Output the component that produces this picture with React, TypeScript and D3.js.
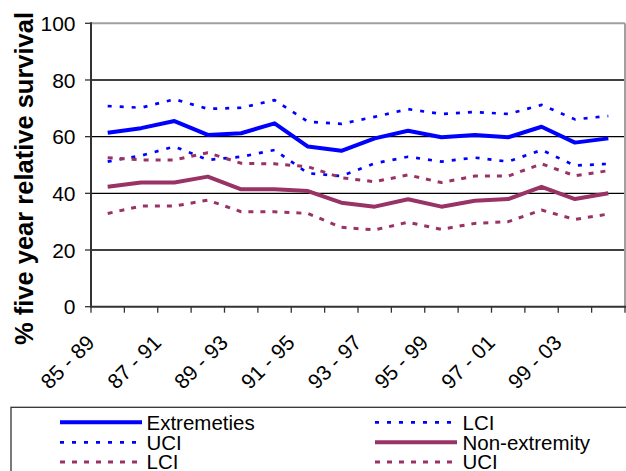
import React from "react";
import * as d3 from "d3";

const categories = [
  "85 - 89", "86 - 90", "87 - 91", "88 - 92", "89 - 93", "90 - 94", "91 - 95", "92 - 96",
  "93 - 97", "94 - 98", "95 - 99", "96 - 00", "97 - 01", "98 - 02", "99 - 03", "00 - 04",
];
const extremities = [61.4, 63.0, 65.5, 60.6, 61.2, 64.7, 56.5, 55.0, 59.4, 62.1, 59.8, 60.6, 59.8, 63.5, 57.9, 59.4];
const extremitiesUCI = [70.8, 70.2, 73.2, 69.8, 70.2, 72.9, 65.3, 64.5, 67.0, 69.7, 68.0, 68.7, 68.0, 71.2, 66.1, 67.3];
const extremitiesLCI = [51.2, 53.3, 56.5, 51.8, 52.9, 55.3, 47.1, 46.1, 50.6, 52.9, 51.2, 52.6, 51.2, 55.3, 49.8, 50.4];
const nonExtremity = [42.3, 43.8, 43.8, 45.9, 41.4, 41.4, 40.8, 36.7, 35.3, 37.9, 35.3, 37.4, 38.0, 42.3, 38.0, 40.0];
const nonExtremityUCI = [52.6, 51.8, 51.8, 54.3, 50.6, 50.4, 49.4, 45.5, 44.1, 46.5, 43.8, 46.1, 46.1, 50.4, 46.2, 48.0];
const nonExtremityLCI = [32.9, 35.5, 35.5, 37.6, 33.5, 33.5, 32.9, 28.0, 27.1, 29.8, 27.3, 29.4, 30.0, 34.1, 30.8, 32.7];
const yTicks = [0, 20, 40, 60, 80, 100];
const xLabelEvery = 2;

const BLUE = "#0000FF";
const PURPLE = "#993366";
const FONT = "'Liberation Sans', Arial, sans-serif";

type Series = { name: string; values: number[]; color: string; width: number; dash?: string };

const series: Series[] = [
  { name: "Extremeties", values: extremities, color: BLUE, width: 4 },
  { name: "LCI", values: extremitiesLCI, color: BLUE, width: 2.7, dash: "4 8" },
  { name: "UCI", values: extremitiesUCI, color: BLUE, width: 2.7, dash: "4 8" },
  { name: "Non-extremity", values: nonExtremity, color: PURPLE, width: 4 },
  { name: "LCI", values: nonExtremityLCI, color: PURPLE, width: 3, dash: "5 7" },
  { name: "UCI", values: nonExtremityUCI, color: PURPLE, width: 3, dash: "5 7" },
];

export default function App() {
  const W = 626, H = 471;
  const left = 91, right = 625, top = 23.3, bottom = 306.7;
  const x = d3.scalePoint<string>().domain(categories).range([left, right]).padding(0.5);
  const y = d3.scaleLinear().domain([0, 100]).range([bottom, top]);
  const step = x.step();
  const line = d3.line<number>().x((_, i) => x(categories[i]) as number).y((d) => y(d));

  const boundaries = d3.range(categories.length + 1).map((k) => left + step * k);

  const legendRows = [422.3, 442.3, 462.0];
  const legendCols = [{ x0: 60, x1: 142, tx: 146.5 }, { x0: 375, x1: 457, tx: 462.5 }];

  return (
    <svg width={W} height={H} style={{ position: "absolute", left: 0, top: 0, background: "#fff" }} fontFamily={FONT}>
      <rect x={0} y={0} width={W} height={H} fill="#fff" />
      {yTicks.filter((t) => t > 0 && t < 100).map((t) => (
        <line key={t} x1={left} x2={right} y1={y(t)} y2={y(t)} stroke="#000" strokeWidth={1.3} />
      ))}
      <line x1={left} x2={right} y1={y(100)} y2={y(100)} stroke="#a0a0a0" strokeWidth={2} />
      <line x1={right} x2={right} y1={y(100)} y2={bottom} stroke="#a0a0a0" strokeWidth={2} />
      {series.map((s, i) => (
        <path key={i} d={line(s.values) || ""} fill="none" stroke={s.color} strokeWidth={s.width}
          strokeDasharray={s.dash} strokeLinejoin="round" />
      ))}
      <line x1={left} x2={left} y1={y(100) - 1} y2={bottom + 1} stroke="#333" strokeWidth={2} />
      <line x1={left} x2={right + 1} y1={bottom} y2={bottom} stroke="#333" strokeWidth={2} />
      {yTicks.map((t) => (
        <g key={t}>
          <line x1={left - 6} x2={left} y1={y(t)} y2={y(t)} stroke="#333" strokeWidth={1.3} />
          <text x={75.5} y={y(t)} dy="0.36em" textAnchor="end" fontSize={21} fill="#000">{t}</text>
        </g>
      ))}
      {boundaries.map((bx, k) => (
        <line key={k} x1={bx} x2={bx} y1={bottom} y2={bottom + 6} stroke="#333" strokeWidth={1.3} />
      ))}
      {categories.map((c, i) => i % xLabelEvery === 0 ? (
        <text key={c} transform={`translate(${(x(c) as number) - 12},344) rotate(-45)`} textAnchor="end"
          fontSize={21} fill="#000">{c}</text>
      ) : null)}
      <text transform="translate(33,178.5) rotate(-90)" textAnchor="middle" fontSize={25.5} fontWeight="bold" fill="#000">
        % five year relative survival
      </text>
      <rect x={11} y={407.3} width={W} height={H} fill="#fff" stroke="#333" strokeWidth={1.3} />
      {series.map((s, i) => {
        const col = legendCols[i % 2];
        const ry = legendRows[Math.floor(i / 2)];
        return (
          <g key={i}>
            <line x1={col.x0} x2={col.x1} y1={ry} y2={ry} stroke={s.color} strokeWidth={s.width}
              strokeDasharray={s.dash} />
            <text x={col.tx} y={ry} dy="0.36em" fontSize={20.5} fill="#000">{s.name}</text>
          </g>
        );
      })}
    </svg>
  );
}
